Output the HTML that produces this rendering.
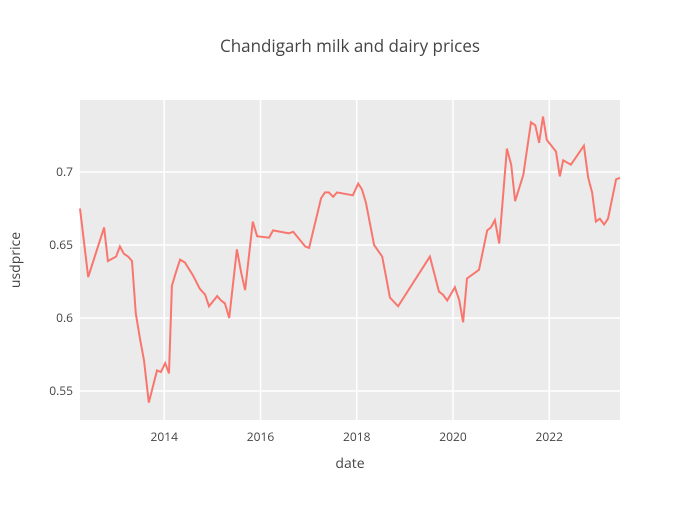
<!DOCTYPE html>
<html><head><meta charset="utf-8"><style>
body{margin:0;background:#fff;font-family:"Liberation Sans",sans-serif}
svg text{font-family:"Open Sans","Liberation Sans",sans-serif;fill:#444}
</style></head><body>
<svg id="chart" width="700" height="500">
<rect width="700" height="500" fill="#fff"/>
<text x="350" y="52" text-anchor="middle" font-size="17">Chandigarh milk and dairy prices</text>
<rect x="80" y="100" width="540" height="320" fill="#ebebeb"/>
<g id="grid"></g><g id="ticks"></g>
<text x="350" y="468" text-anchor="middle" font-size="14">date</text>
<text transform="translate(20,260) rotate(-90)" text-anchor="middle" font-size="14">usdprice</text>
<path id="line" fill="none" stroke="#F8766D" stroke-width="2"/>
</svg>
<script>
const dates=[2012.25,2012.42,2012.75,2012.83,2013.0,2013.08,2013.16,2013.25,2013.33,2013.41,2013.5,2013.58,2013.68,2013.85,2013.93,2014.02,2014.1,2014.16,2014.24,2014.33,2014.43,2014.6,2014.74,2014.85,2014.93,2015.1,2015.18,2015.26,2015.35,2015.51,2015.6,2015.68,2015.84,2015.93,2016.18,2016.26,2016.59,2016.68,2016.93,2017.01,2017.26,2017.34,2017.42,2017.51,2017.59,2017.92,2018.03,2018.11,2018.19,2018.36,2018.53,2018.61,2018.69,2018.86,2019.52,2019.71,2019.79,2019.88,2020.04,2020.13,2020.21,2020.29,2020.54,2020.71,2020.79,2020.87,2020.96,2021.12,2021.21,2021.29,2021.46,2021.62,2021.71,2021.79,2021.87,2021.95,2022.14,2022.22,2022.29,2022.45,2022.72,2022.81,2022.89,2022.97,2023.05,2023.14,2023.22,2023.39,2023.47];
const prices=[0.675,0.628,0.662,0.639,0.642,0.649,0.644,0.642,0.639,0.603,0.585,0.571,0.542,0.564,0.563,0.569,0.562,0.622,0.631,0.640,0.638,0.629,0.620,0.616,0.608,0.615,0.612,0.610,0.600,0.647,0.631,0.619,0.666,0.656,0.655,0.660,0.658,0.659,0.649,0.648,0.682,0.686,0.686,0.683,0.686,0.684,0.692,0.688,0.679,0.650,0.642,0.628,0.614,0.608,0.642,0.618,0.616,0.612,0.621,0.612,0.597,0.627,0.633,0.660,0.662,0.667,0.651,0.716,0.705,0.680,0.698,0.734,0.732,0.720,0.738,0.722,0.714,0.697,0.708,0.705,0.718,0.696,0.686,0.666,0.668,0.664,0.668,0.695,0.696];
const xTicks=[2014,2016,2018,2020,2022];
const yTicks=[0.55,0.6,0.65,0.7];
const yLabels=["0.55","0.6","0.65","0.7"];
const X0=2012.25,X1=2023.47,Y0=0.5301,Y1=0.7493;
const sx=v=>80+(v-X0)/(X1-X0)*540;
const sy=v=>420-(v-Y0)/(Y1-Y0)*320;
const NS="http://www.w3.org/2000/svg";
const grid=document.getElementById('grid'),ticks=document.getElementById('ticks');
xTicks.forEach(t=>{
 const l=document.createElementNS(NS,'line');
 l.setAttribute('x1',sx(t));l.setAttribute('x2',sx(t));l.setAttribute('y1',100);l.setAttribute('y2',420);
 l.setAttribute('stroke','#fff');l.setAttribute('stroke-width','1.5');
 
 
 grid.appendChild(l);
 const tx=document.createElementNS(NS,'text');
 tx.setAttribute('x',sx(t));tx.setAttribute('y',441);tx.setAttribute('text-anchor','middle');tx.setAttribute('font-size','12');
 tx.textContent=t;
 
 
 ticks.appendChild(tx);
});
yTicks.forEach((t,i)=>{
 const l=document.createElementNS(NS,'line');
 l.setAttribute('x1',80);l.setAttribute('x2',620);l.setAttribute('y1',sy(t));l.setAttribute('y2',sy(t));
 l.setAttribute('stroke','#fff');l.setAttribute('stroke-width','1.5');
 
 
 grid.appendChild(l);
 const tx=document.createElementNS(NS,'text');
 tx.setAttribute('x',73);tx.setAttribute('y',sy(t)+4);tx.setAttribute('text-anchor','end');tx.setAttribute('font-size','12');
 tx.textContent=yLabels[i];
 
 
 ticks.appendChild(tx);
});
document.getElementById('line').setAttribute('d',dates.map((d,i)=>(i?'L':'M')+sx(d).toFixed(1)+','+sy(prices[i]).toFixed(1)).join(''));
</script>
</body></html>
